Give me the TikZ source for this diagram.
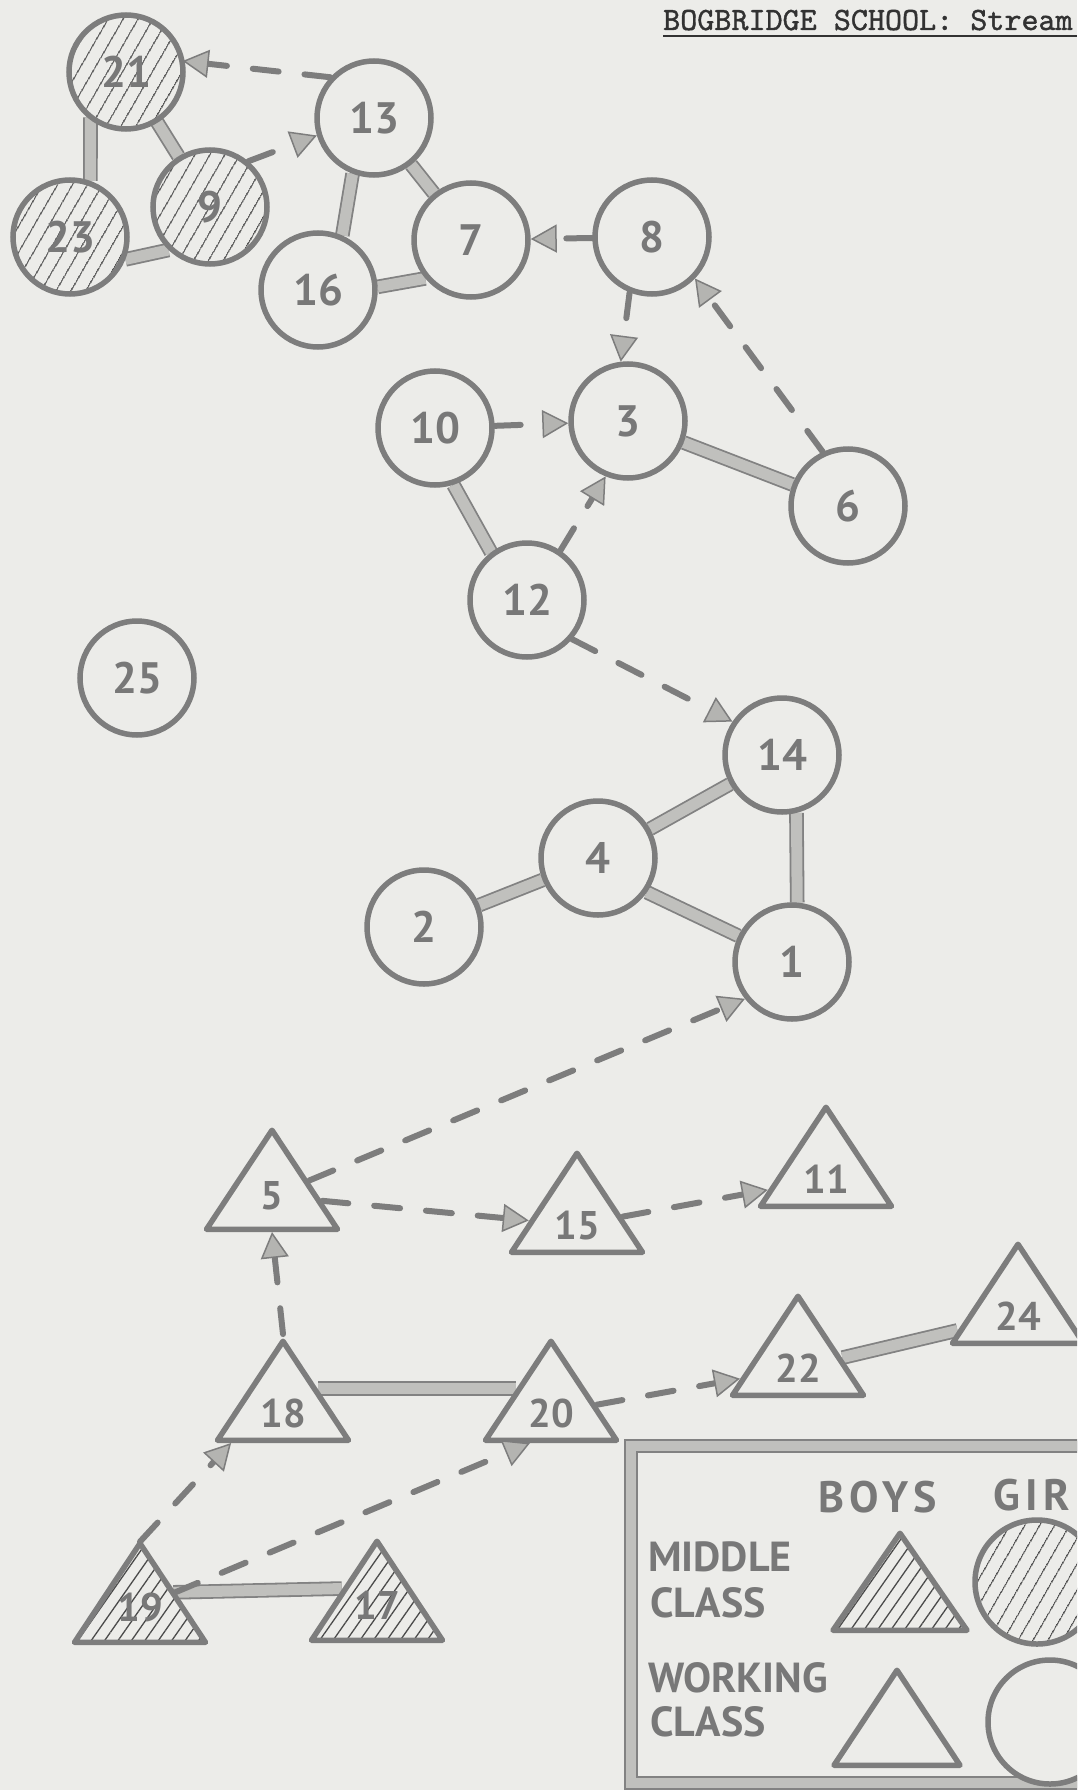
\documentclass[tikz,border=0pt]{standalone}
\usepackage{fontspec}
\setmainfont{PT Sans}
\newfontfamily\typefont{lmmono10-regular.otf}[FakeBold=1.2]
\usetikzlibrary{shapes.geometric,arrows.meta,patterns.meta}
\definecolor{paper}{RGB}{236,236,233}
\definecolor{ink}{RGB}{125,125,125}
\definecolor{bandin}{RGB}{192,192,189}
\definecolor{bandout}{RGB}{130,130,130}
\definecolor{hatchc}{RGB}{75,75,75}
\definecolor{numc}{RGB}{120,120,120}
\definecolor{tipfill}{RGB}{180,180,177}
\definecolor{typec}{RGB}{50,50,50}
\pgfdeclarelayer{paperlayer}
\pgfdeclarelayer{edgelayer}
\pgfsetlayers{paperlayer,edgelayer,main}
\begin{document}
\begin{tikzpicture}[x=1pt,y=-1pt,
  girl/.style={circle, draw=ink, line width=5.5pt, fill=paper, minimum size=114pt, inner sep=0pt,
    font=\bfseries\fontsize{44}{44}\selectfont, text=numc},
  girlmc/.style={girl, preaction={fill=paper}, pattern={Lines[angle=60,distance=13pt,line width=1.4pt]}, pattern color=hatchc},
  boy/.style={isosceles triangle, isosceles triangle stretches, shape border rotate=90,
    draw=ink, line width=5.5pt, line join=round, fill=paper, minimum width=131pt, minimum height=99pt,
    inner sep=0pt, anchor=lower side, font=\bfseries\fontsize{40}{40}\selectfont, text=numc},
  boymc/.style={boy, preaction={fill=paper}, pattern={Lines[angle=55,distance=11pt,line width=1.3pt]}, pattern color=hatchc},
  numlabel/.style={text=numc, font=\bfseries\fontsize{44}{44}\selectfont},
  band/.style={draw=bandout, line width=1.8pt, double=bandin, double distance=11pt},
  darrow/.style={draw=ink, line width=6pt, line cap=round, dash pattern=on 26pt off 26pt,
    -{Triangle[length=26pt,width=28pt,line width=1.5pt,fill=tipfill]}},
  legtext/.style={anchor=west, font=\bfseries\fontsize{42}{42}\selectfont, text=numc, inner sep=0pt},
]
\useasboundingbox (0,0) rectangle (1077,1790);
\begin{pgfonlayer}{paperlayer}
\fill[paper] (0,0) rectangle (1077,1790);
\end{pgfonlayer}
\clip (0,0) rectangle (1077,1790);

% title
\node[anchor=base west, inner sep=0pt, font=\typefont\fontsize{32.5}{32.5}\selectfont, text=typec] (title) at (663,30) {BOGBRIDGE SCHOOL: Stream};
\draw[typec, line width=2.5pt] (663,36) -- (1077,36);

% girls
\node[girlmc] (n21) at (126,72) {};
\node[girlmc] (n23) at (70,237) {};
\node[girlmc] (n9) at (210,207) {};
\node[girl] (n13) at (374,118) {13};
\node[girl] (n16) at (318,290) {16};
\node[girl] (n7) at (471,240) {7};
\node[girl] (n8) at (652,237) {8};
\node[girl] (n10) at (435,428) {10};
\node[girl] (n3) at (628,421) {3};
\node[girl] (n6) at (848,506) {6};
\node[girl] (n12) at (527,600) {12};
\node[girl] (n25) at (137,678) {25};
\node[girl] (n14) at (782,755) {14};
\node[girl] (n4) at (598,858) {4};
\node[girl] (n2) at (424,927) {2};
\node[girl] (n1) at (792,962) {1};
\node[numlabel] (l21) at (n21) {21};
\node[numlabel] (l23) at (n23) {23};
\node[numlabel] (l9) at (n9) {9};

% boys
\node[boy] (t5) at (272,1232) {5};
\node[boy] (t15) at (577,1255) {15};
\node[boy] (t11) at (826,1209) {11};
\node[boy] (t18) at (283,1443) {18};
\node[boy] (t20) at (551,1443) {20};
\node[boy] (t22) at (798,1398) {22};
\node[boy] (t24) at (1018,1346) {24};
\node[boymc] (t19) at (140,1643) {};
\node[boymc] (t17) at (377,1643) {};
\node[numlabel, font=\bfseries\fontsize{40}{40}\selectfont] (l19) at (t19) {19};
\node[numlabel, font=\bfseries\fontsize{40}{40}\selectfont] (l17) at (t17) {17};

% solid ties
\begin{pgfonlayer}{edgelayer}
\draw[band] (n21.232) -- (n23.70);
\draw[band] (n21) -- (n9);
\draw[band] (n23.-22) -- (n9.226);
\draw[band] (n13.249) -- (n16.66);
\draw[band] (n13) -- (n7);
\draw[band] (n16.3) -- (n7.220);
\draw[band] (n3) -- (n6);
\draw[band] (n10.-72) -- (n12.127);
\draw[band] (n14) -- (n4);
\draw[band] (n14.-76) -- (n1.85);
\draw[band] (n4) -- (n2);
\draw[band] (n4.-35) -- (n1.154);
\draw[band] (t18.right side) -- (t20.left side);
\draw[band] (t19.right side) -- (t17.left side);
\draw[band] (t22) -- (t24);
\end{pgfonlayer}

% choices
\draw[darrow] (n13.137) -- (n21.11);
\draw[darrow] (n9.50) -- (n13.197);
\draw[darrow] (n8) -- (n7);
\draw[darrow] (n8.248) -- (n3.97);
\draw[darrow] (n6.115) -- (n8.-44);
\draw[darrow] (n10) -- (n3);
\draw[darrow] (n12.56) -- (n3.248);
\draw[darrow] (n12.-41) -- (n14.146);
\draw[darrow] (t5) -- (n1.218);
\draw[darrow] (t5) -- (t15);
\draw[darrow] (t15) -- (t11);
\draw[darrow] (t18.apex) -- (t5.lower side);
\draw[darrow] (t20) -- (t22);
\draw[darrow] (t19.apex) -- (t18.210);
\draw[darrow] (t19) -- (t20.235);

% legend
\draw[band, double distance=10pt] (631,1446) rectangle (1130,1783);
\node[legtext, font=\bfseries\fontsize{44}{44}\selectfont\addfontfeatures{LetterSpace=12}] (boys) at (818,1497) {BOYS};
\node[legtext, font=\bfseries\fontsize{44}{44}\selectfont\addfontfeatures{LetterSpace=12}] (girls) at (993,1495) {GIR};
\node[legtext] (mid1) at (648,1557) {MIDDLE};
\node[legtext] (mid2) at (650,1603) {CLASS};
\node[legtext] (wrk1) at (648,1678) {WORKING};
\node[legtext] (wrk2) at (650,1722) {CLASS};
\node[boymc, minimum width=134pt, minimum height=97pt] (legmb) at (900,1633) {};
\node[boy, minimum width=126pt, minimum height=95pt] (legwb) at (897,1768) {};
\node[girlmc, minimum size=124pt] (legmg) at (1037,1582) {};
\node[girl, minimum size=124pt] (legwg) at (1050,1722) {};
\end{tikzpicture}
\end{document}
